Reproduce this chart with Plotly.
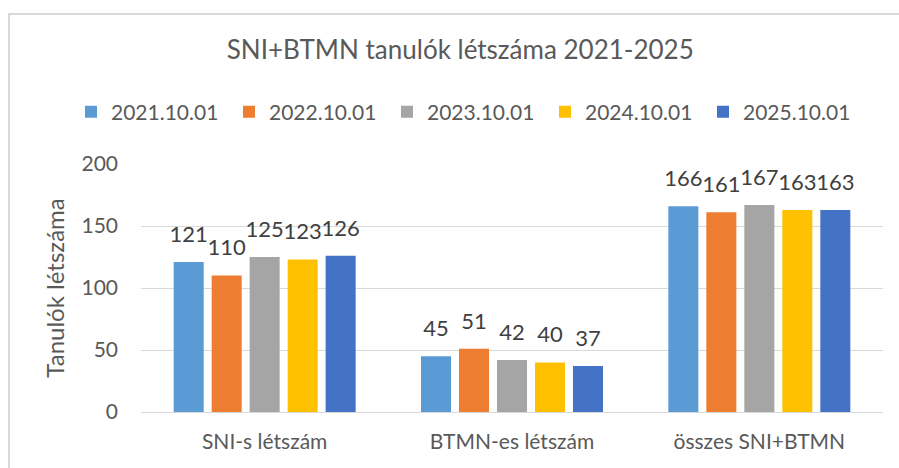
import plotly.graph_objects as go

categories = ["SNI-s létszám", "BTMN-es létszám", "összes SNI+BTMN"]
series_names = ["2021.10.01", "2022.10.01", "2023.10.01", "2024.10.01", "2025.10.01"]
v2021 = [121, 45, 166]
v2022 = [110, 51, 161]
v2023 = [125, 42, 167]
v2024 = [123, 40, 163]
v2025 = [126, 37, 163]
colors = ["#5B9BD5", "#ED7D31", "#A5A5A5", "#FFC000", "#4472C4"]
y_ticks = [0, 50, 100, 150, 200]

FONT = "Lato"
TXT = "#595959"

fig = go.Figure()
all_vals = [v2021, v2022, v2023, v2024, v2025]
for name, vals, col in zip(series_names, all_vals, colors):
    fig.add_trace(go.Bar(
        x=categories, y=vals, name=name, marker=dict(color=col, line=dict(width=0)),
        offsetgroup=name,
    ))
# data labels (invisible markers, text above)
for name, vals in zip(series_names, all_vals):
    fig.add_trace(go.Scatter(
        x=categories, y=vals, mode="markers+text", text=[str(v) for v in vals],
        textposition="top center", showlegend=False, hoverinfo="skip",
        marker=dict(size=22, opacity=0), cliponaxis=False, offsetgroup=name,
        textfont=dict(family=FONT, size=22, color="#404040"),
    ))

W, H = 899, 468
L, R, T, B = 141, 16, 164, 56
PW = W - L - R
PH = H - T - B
fig.update_layout(
    width=W, height=H,
    margin=dict(l=L, r=R, t=T, b=B, autoexpand=False),
    paper_bgcolor="white", plot_bgcolor="white",
    barmode="group", bargap=0.232, bargroupgap=0.21,
    scattermode="group", scattergap=0.232,
    font=dict(family=FONT, color=TXT),
    title=dict(text="SNI+BTMN tanulók létszáma 2021-2025", x=0.512, xanchor="center",
               y=1 - 50 / H, yanchor="middle", xref="container", yref="container",
               font=dict(family=FONT, size=26, color=TXT)),
    legend=dict(orientation="h", xref="paper", yref="paper",
                x=(71 - L) / PW, xanchor="left", y=(H - B - 112) / PH, yanchor="middle",
                font=dict(family=FONT, size=21, color=TXT),
                entrywidth=113, entrywidthmode="pixels", traceorder="normal",
                bgcolor="rgba(0,0,0,0)"),
    xaxis=dict(showgrid=False, showline=False, zeroline=False, ticks="",
               tickfont=dict(family=FONT, size=21, color=TXT), ticklabelstandoff=15),
    yaxis=dict(range=[0, 200], tickvals=y_ticks, showgrid=True, gridcolor="#D9D9D9",
               gridwidth=1, zeroline=True, zerolinecolor="#D9D9D9", zerolinewidth=1,
               showline=False, ticks="", ticklabelstandoff=22,
               tickfont=dict(family=FONT, size=21, color=TXT),
               title=dict(text="Tanulók létszáma", standoff=10,
                          font=dict(family=FONT, size=24, color=TXT))),
    showlegend=True,
)
# chart border
fig.add_shape(type="rect", xref="paper", yref="paper",
              x0=(9 - L) / PW, x1=(905 - L) / PW,
              y0=(H - B - 480) / PH, y1=(H - B - 14) / PH,
              line=dict(color="#D9D9D9", width=2), fillcolor="rgba(0,0,0,0)", layer="below")

fig.write_html("out.html", config={"displayModeBar": False},
               post_script="document.body.style.margin='0';document.body.style.overflow='hidden';")
